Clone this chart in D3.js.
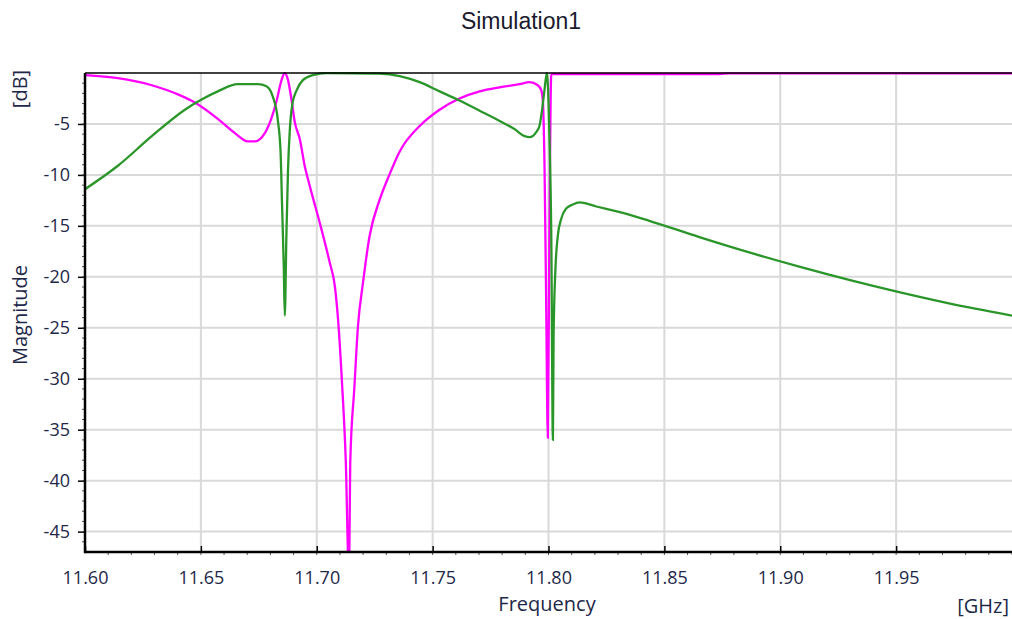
<!DOCTYPE html>
<html>
<head>
<meta charset="utf-8">
<script src="https://cdn.jsdelivr.net/npm/d3@7"></script>
<style>
  body { margin: 0; background: #fff; }
  svg { display: block; }
  .tick text { font-family: "Open Sans", sans-serif; font-size: 18px; fill: #1e2848; }
  .lbl { font-family: "Open Sans", sans-serif; font-size: 20px; fill: #1e2848; }
</style>
</head>
<body>
<div id="chart"></div>
<script>
// data (GHz, dB)
var s11Freq = [11.6000, 11.6142, 11.6288, 11.6401, 11.6474, 11.6573, 11.6647, 11.6703, 11.6733, 11.6776,
  11.6805, 11.6826, 11.6848, 11.6862, 11.6876, 11.6891, 11.6905, 11.6927, 11.6948, 11.6970,
  11.7013, 11.7056, 11.7078, 11.7092, 11.7108, 11.7125, 11.7139, 11.7145, 11.7162, 11.7178,
  11.7200, 11.7228, 11.7272, 11.7315, 11.7358, 11.7444, 11.7530, 11.7616, 11.7703, 11.7789,
  11.7875, 11.7918, 11.7954, 11.7969, 11.7976, 11.7983, 11.7990, 11.7997, 11.8004, 11.8012,
  11.8047, 11.8737, 11.8780, 12.0000];
var s11Db = [-0.2, -0.5, -1.2, -2.1, -2.9, -4.5, -5.9, -6.7, -6.7, -5.9,
  -4.4, -2.8, -0.7, 0.0, -0.7, -2.6, -4.8, -6.5, -9.1, -11.1,
  -14.7, -18.6, -20.9, -24.2, -30.0, -37.9, -49.0, -37.9, -31.0, -24.8,
  -20.5, -16.0, -12.4, -9.9, -7.7, -5.2, -3.6, -2.5, -1.8, -1.4,
  -1.1, -0.9, -1.2, -1.7, -2.9, -9.4, -22.5, -35.8, -15.0, -0.1,
  -0.1, -0.1, -0.04, -0.04];

var s21Freq = [11.6000, 11.6142, 11.6288, 11.6431, 11.6503, 11.6573, 11.6659, 11.6746, 11.6783, 11.6810,
  11.6832, 11.6844, 11.6850, 11.6858, 11.6862, 11.6869, 11.6876, 11.6884, 11.6895, 11.6913,
  11.6940, 11.6983, 11.7042, 11.7272, 11.7358, 11.7444, 11.7530, 11.7616, 11.7703, 11.7789,
  11.7853, 11.7897, 11.7918, 11.7947, 11.7961, 11.7973, 11.7983, 11.7993, 11.8004, 11.8012,
  11.8019, 11.8022, 11.8030, 11.8040, 11.8055, 11.8076, 11.8105, 11.8134, 11.8162, 11.8206,
  11.8263, 11.8299, 11.8435, 11.8651, 11.8866, 11.9082, 11.9297, 11.9513, 11.9728, 12.0000];
var s21Db = [-11.4, -9.1, -6.2, -3.6, -2.6, -1.8, -1.1, -1.1, -1.3, -2.3,
  -4.6, -7.8, -12.7, -19.3, -23.8, -16.0, -9.5, -5.5, -3.0, -1.7,
  -0.7, -0.2, 0.0, -0.05, -0.3, -0.9, -1.8, -2.7, -3.7, -4.7,
  -5.5, -6.2, -6.3, -5.8, -5.2, -3.5, -1.6, 0.0, -6.2, -16.0,
  -36.0, -25.8, -19.2, -16.0, -14.3, -13.3, -12.9, -12.7, -12.8, -13.1,
  -13.4, -13.6, -14.5, -16.1, -17.6, -19.0, -20.3, -21.5, -22.6, -23.8];

var xTicks = [11.60, 11.65, 11.70, 11.75, 11.80, 11.85, 11.90, 11.95];
var yTicks = [-5, -10, -15, -20, -25, -30, -35, -40, -45];

var svgWidth = 1012;
var svgHeight = 619;
var margin = { top: 73, right: 0, bottom: 67, left: 85 };
var width = svgWidth - margin.left - margin.right;
var height = svgHeight - margin.top - margin.bottom;

var svg = d3.select("#chart").append("svg")
  .attr("width", svgWidth)
  .attr("height", svgHeight);

var chartGroup = svg.append("g")
  .attr("transform", `translate(${margin.left}, ${margin.top})`);

var x = d3.scaleLinear().domain([11.6, 12.0]).range([0, width]);
var y = d3.scaleLinear().domain([-47, 0]).range([height, 0]);

// grid
chartGroup.append("g")
  .selectAll("line").data(xTicks.slice(1)).enter().append("line")
  .attr("x1", d => x(d)).attr("x2", d => x(d))
  .attr("y1", 0).attr("y2", height)
  .attr("stroke", "#d9d9d9").attr("stroke-width", 2);
chartGroup.append("g")
  .selectAll("line").data(yTicks).enter().append("line")
  .attr("x1", 0).attr("x2", width)
  .attr("y1", d => y(d)).attr("y2", d => y(d))
  .attr("stroke", "#d9d9d9").attr("stroke-width", 2);

// clip for curves
svg.append("clipPath").attr("id", "plotclip")
  .append("rect").attr("x", 0).attr("y", -1).attr("width", width).attr("height", height + 1);

var line = d3.line()
  .x(d => x(d[0]))
  .y(d => y(d[1]))
  .curve(d3.curveMonotoneX);

var curves = chartGroup.append("g").attr("clip-path", "url(#plotclip)");

curves.append("path")
  .datum(d3.zip(s11Freq, s11Db))
  .attr("d", line)
  .attr("fill", "none")
  .attr("stroke", "#ff00ff")
  .attr("stroke-width", 2.3);

curves.append("path")
  .datum(d3.zip(s21Freq, s21Db))
  .attr("d", line)
  .attr("fill", "none")
  .attr("stroke", "#2a962a")
  .attr("stroke-width", 2.3);

// axes
var bottomAxis = d3.axisBottom(x)
  .tickValues(xTicks)
  .tickSize(-6)
  .tickPadding(19)
  .tickFormat(d3.format(".2f"));
var xAxis = chartGroup.append("g")
  .attr("transform", `translate(0, ${height})`)
  .call(bottomAxis);
xAxis.select(".domain").remove();
xAxis.selectAll(".tick line").attr("stroke", "#000").attr("stroke-width", 1.5);

var leftAxis = d3.axisLeft(y)
  .tickValues(yTicks)
  .tickSize(7)
  .tickPadding(8);
var yAxis = chartGroup.append("g").call(leftAxis);
yAxis.select(".domain").remove();
yAxis.selectAll(".tick line").attr("stroke", "#000").attr("stroke-width", 1.5);
yAxis.selectAll(".tick text").text(d => d);

// minor ticks
chartGroup.append("g")
  .selectAll("line").data(d3.range(11.61, 12.0, 0.01)).enter().append("line")
  .attr("x1", d => x(d)).attr("x2", d => x(d))
  .attr("y1", height).attr("y2", height + 3)
  .attr("stroke", "#555").attr("stroke-width", 1);
chartGroup.append("g")
  .selectAll("line").data(d3.range(-46, 0, 1)).enter().append("line")
  .attr("x1", -3).attr("x2", 0)
  .attr("y1", d => y(d)).attr("y2", d => y(d))
  .attr("stroke", "#555").attr("stroke-width", 1);

// frame
chartGroup.append("line").attr("x1", 0).attr("x2", width).attr("y1", 0).attr("y2", 0)
  .attr("stroke", "#000").attr("stroke-width", 1.5);
chartGroup.append("line").attr("x1", 0).attr("x2", 0).attr("y1", 0).attr("y2", height + 1.25)
  .attr("stroke", "#000").attr("stroke-width", 2.5);
chartGroup.append("line").attr("x1", 0).attr("x2", width).attr("y1", height).attr("y2", height)
  .attr("stroke", "#000").attr("stroke-width", 2.5);

// labels
svg.append("text")
  .attr("x", 521).attr("y", 29)
  .attr("text-anchor", "middle")
  .style("font-family", "'Liberation Sans', Arial, sans-serif")
  .style("font-size", "23px")
  .style("fill", "#1a1a2e")
  .text("Simulation1");

svg.append("text").attr("class", "lbl")
  .attr("transform", "translate(27, 89) rotate(-90)")
  .attr("text-anchor", "middle")
  .text("[dB]");

svg.append("text").attr("class", "lbl")
  .attr("transform", "translate(27, 315) rotate(-90)")
  .attr("text-anchor", "middle")
  .text("Magnitude");

svg.append("text").attr("class", "lbl")
  .attr("x", 547).attr("y", 611)
  .attr("text-anchor", "middle")
  .text("Frequency");

svg.append("text").attr("class", "lbl")
  .attr("x", 1009).attr("y", 613)
  .attr("text-anchor", "end")
  .text("[GHz]");
</script>
</body>
</html>
